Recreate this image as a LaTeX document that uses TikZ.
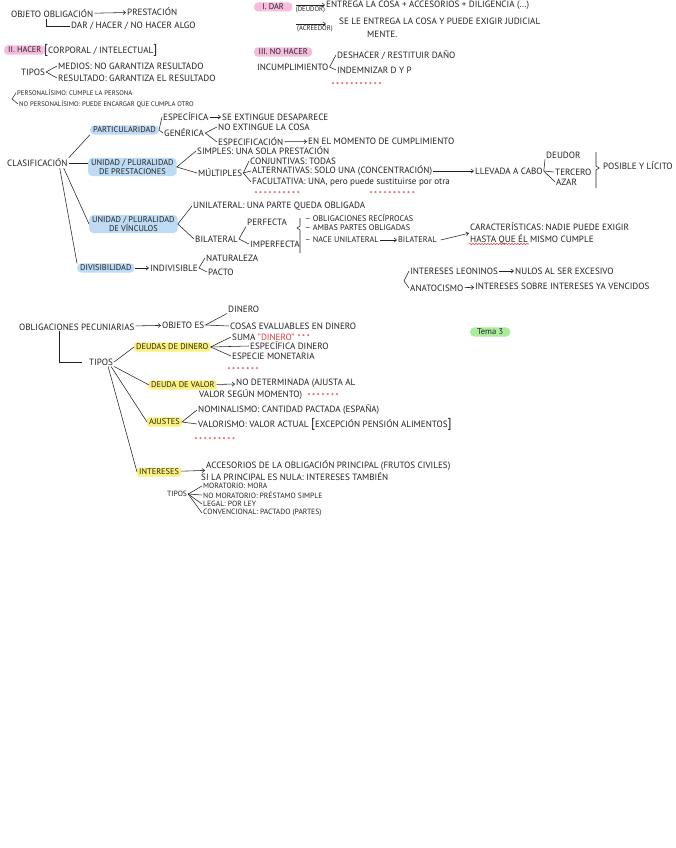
\documentclass[tikz,border=0pt]{standalone}
\usepackage{fontspec}
\setmainfont{PT Sans}
\usetikzlibrary{arrows.meta,decorations.pathmorphing}

\definecolor{ink}{HTML}{222222}
\definecolor{hlpink}{HTML}{F6BCDD}
\definecolor{hlblue}{HTML}{BFDBF4}
\definecolor{hlyellow}{HTML}{FAF07C}
\definecolor{hlgreen}{HTML}{ABEC9C}
\definecolor{starred}{HTML}{E03A3A}

% row of red stars: x, y, count
\newcommand{\redstars}[3]{%
  \foreach \s in {1,...,#3} {
    \node[text=starred, inner sep=0pt, font=\fontsize{8.5}{8}\selectfont] at (#1+\s*4.7-4.7, #2+1.5) {*};
  }%
}
\newcommand{\bigbr}[1]{{\fontsize{13}{13}\selectfont #1}}

\begin{document}
\begin{tikzpicture}[x=1pt, y=-1pt,
  txt/.style={anchor=west, inner sep=1pt, text=ink, font=\fontsize{9.1}{10}\selectfont},
  small/.style={txt, font=\fontsize{8.2}{9}\selectfont},
  mini/.style={txt, font=\fontsize{7.6}{8}\selectfont},
  tiny/.style={txt, font=\fontsize{6.7}{7}\selectfont},
  pinkbox/.style={txt, font=\fontsize{8.3}{9}\selectfont, fill=hlpink, rounded corners=3.5pt, inner xsep=4pt, inner ysep=1.5pt},
  bluebox/.style={txt, font=\fontsize{8.3}{9}\selectfont, fill=hlblue, rounded corners=4pt, inner xsep=3pt, inner ysep=1.5pt},
  yellowbox/.style={txt, font=\fontsize{8.3}{9}\selectfont, fill=hlyellow, rounded corners=2pt, inner xsep=2pt, inner ysep=1.5pt},
  greenbox/.style={txt, font=\fontsize{8.5}{9}\selectfont, fill=hlgreen, rounded corners=4pt, inner xsep=7pt, inner ysep=1.5pt},
  link/.style={draw=ink, line width=0.55pt},
  arr/.style={link, -{Straight Barb[length=2.5pt, width=4pt]}},
]

  % --- Page ---
  \useasboundingbox (0,0) rectangle (676,848);
  \fill[white] (0,0) rectangle (676,848);

  % --- Objeto ---
  \node[txt] (objeto) at (10,14) {OBJETO OBLIGACIÓN};
  \node[txt] (prest) at (126,12) {PRESTACIÓN};
  \draw[arr] (objeto) -- (prest);
  \node[txt] (dhn) at (70,26) {DAR / HACER / NO HACER ALGO};
  \draw[link] ([xshift=-6pt]objeto.south) |- (dhn.west);

  % --- II. Hacer ---
  \node[pinkbox] (hacer) at (4,50) {II. HACER};
  \node[txt] (corp) at (43,50) {\bigbr{[}CORPORAL / INTELECTUAL\bigbr{]}};
  \node[txt] (tipos1) at (20,72) {TIPOS};
  \node[txt] (medios) at (57,66) {MEDIOS: NO GARANTIZA RESULTADO};
  \node[txt] (result) at (57,78) {RESULTADO: GARANTIZA EL RESULTADO};
  \draw[link] (medios.west) -- (tipos1.east) -- (result.west);

  \coordinate (pbr) at (12,99);
  \node[tiny] (perso) at (16,93) {PERSONALÍSIMO: CUMPLE LA PERSONA};
  \node[tiny] (noperso) at (18,104) {NO PERSONALÍSIMO: PUEDE ENCARGAR QUE CUMPLA OTRO};
  \draw[link] (perso.west) -- (pbr) -- (noperso.west);

  % --- I. Dar ---
  \node[pinkbox, minimum width=38pt] (dar) at (254,7) {I. DAR};
  \node[txt] (entrega) at (325,5) {ENTREGA LA COSA + ACCESORIOS + DILIGENCIA (...)};
  \coordinate (d1) at (296,5);
  \draw[arr] (d1) -- (entrega.west) node[tiny, midway, anchor=north, inner sep=0pt, yshift=-1pt] {(DEUDOR)};
  \node[txt] (seleent) at (338,21) {SE LE ENTREGA LA COSA Y PUEDE EXIGIR JUDICIAL};
  \node[txt] (mente) at (366,34) {MENTE.};
  \coordinate (d2) at (296,24);
  \draw[arr, shorten >=12pt] (d2) -- (d2 -| seleent.west) node[tiny, pos=0.45, anchor=north, inner sep=0pt, yshift=-1pt] {(ACREEDOR)};

  % --- III. No hacer ---
  \node[pinkbox, minimum width=58pt] (nohacer) at (254,52) {III. NO HACER};
  \node[txt] (incump) at (256,67) {INCUMPLIMIENTO};
  \node[txt] (deshacer) at (336,55) {DESHACER / RESTITUIR DAÑO};
  \node[txt] (indem) at (336,70) {INDEMNIZAR D Y P};
  \draw[link] (deshacer.west) -- (incump.east) -- (indem.west);
  \redstars{333}{84}{11}

  % --- Clasificacion ---
  \node[txt] (clasif) at (6,163) {CLASIFICACIÓN};
  \node[bluebox] (partic) at (90,130) {PARTICULARIDAD};
  \node[bluebox, align=center] (uniprest) at (88,167) {UNIDAD / PLURALIDAD\\DE PRESTACIONES};
  \node[bluebox, align=center] (univinc) at (89,224) {UNIDAD / PLURALIDAD\\DE VÍNCULOS};
  \node[bluebox] (divis) at (77,268) {DIVISIBILIDAD};
  \draw[link] (clasif.north east) -- (partic.south west);
  \draw[link] (clasif.east) -- (clasif.east -| uniprest.west);
  \draw[link] ([xshift=-5pt]clasif.south east) -- (univinc.west);
  \draw[link] ([xshift=-9pt]clasif.south east) -- (divis.north west);

  % particularidad
  \node[txt] (especif) at (162,117) {ESPECÍFICA};
  \node[txt] (extingue) at (221,117) {SE EXTINGUE DESAPARECE};
  \node[txt] (generica) at (163,133) {GENÉRICA};
  \draw[link] (especif.west) -- (partic.east) -- (generica.west);
  \draw[arr] (especif) -- (extingue);
  \node[txt] (noext) at (217,127) {NO EXTINGUE LA COSA};
  \node[txt] (especifc) at (217,142) {ESPECIFICACIÓN};
  \node[txt] (momento) at (307,141) {EN EL MOMENTO DE CUMPLIMIENTO};
  \draw[link] (noext.west) -- (generica.east) -- (especifc.west);
  \draw[arr] (especifc) -- (momento);

  % prestaciones
  \node[txt] (simples) at (196,151) {SIMPLES: UNA SOLA PRESTACIÓN};
  \node[txt] (multiples) at (197,173) {MÚLTIPLES};
  \draw[link] (simples.west) -- (uniprest.east) -- (multiples.west);
  \node[txt] (conj) at (249,161) {CONJUNTIVAS: TODAS};
  \node[txt] (altern) at (251,171) {ALTERNATIVAS: SOLO UNA (CONCENTRACIÓN)};
  \node[txt] (facul) at (251,182) {FACULTATIVA: UNA, pero puede sustituirse por otra};
  \foreach \n in {conj, altern, facul} {
    \draw[link] (multiples.east) -- (\n.west);
  }
  \redstars{256}{193}{10}
  \redstars{371}{193}{10}
  \node[txt] (llevada) at (474,171) {LLEVADA A CABO};
  \draw[arr] (altern) -- (llevada);
  \node[txt] (deudor) at (545,155) {DEUDOR};
  \node[txt] (tercero) at (554,172) {TERCERO};
  \node[txt] (azar) at (555,182) {AZAR};
  \draw[link] (llevada.east) -- (deudor.south west);
  \draw[link] (llevada.east) -- (tercero.west);
  \draw[link] (llevada.east) -- (azar.west);
  \draw[link] (596,152) -- (596,166) -- (599,168) -- (596,170) -- (596,188);
  \node[txt] (posible) at (602,166) {POSIBLE Y LÍCITO};

  % vinculos
  \node[txt] (unilat) at (192,206) {UNILATERAL: UNA PARTE QUEDA OBLIGADA};
  \node[txt] (bilat) at (194,239) {BILATERAL};
  \draw[link] (unilat.west) -- (univinc.east) -- (bilat.west);
  \node[txt] (perfecta) at (246,222) {PERFECTA};
  \node[txt] (imperf) at (249,244) {IMPERFECTA};
  \draw[link] (perfecta.south west) -- (bilat.east) -- (imperf.west);
  \draw[link] (300,218) -- (300,226) -- (297,228) -- (300,230) -- (300,253);
  \node[small] (recip) at (304,218) {– OBLIGACIONES RECÍPROCAS};
  \node[small] (ambas) at (304,228) {– AMBAS PARTES OBLIGADAS};
  \node[small] (nace) at (304,240) {– NACE UNILATERAL};
  \node[small] (bilat2) at (397,240) {BILATERAL};
  \draw[arr] (nace) -- (bilat2);
  \node[txt] (caract) at (469,227) {CARACTERÍSTICAS: NADIE PUEDE EXIGIR};
  \node[txt] (hastaa) at (469,239) {HASTA QUE ÉL};
  \node[txt] (hastab) at (hastaa.east) {MISMO CUMPLE};
  \draw[starred, line width=0.6pt, decorate, decoration={snake, amplitude=0.6pt, segment length=3pt}]
    ([yshift=1pt]hastaa.south west) -- ([yshift=1pt]hastaa.south east);
  \draw[arr] ([xshift=3pt]bilat2.east) -- ([yshift=-1pt]caract.south west);

  % divisibilidad
  \node[txt] (indiv) at (149,268) {INDIVISIBLE};
  \draw[arr] (divis) -- (indiv);
  \node[txt] (natur) at (205,258) {NATURALEZA};
  \node[txt] (pacto) at (207,272) {PACTO};
  \draw[link] (natur.west) -- (indiv.east) -- (pacto.west);

  % --- Intereses leoninos / anatocismo ---
  \coordinate (ibr) at (404,281);
  \node[txt] (leon) at (409,271) {INTERESES LEONINOS};
  \node[txt] (nulos) at (514,271) {NULOS AL SER EXCESIVO};
  \node[txt] (anat) at (409,288) {ANATOCISMO};
  \node[txt] (sobre) at (474,286) {INTERESES SOBRE INTERESES YA VENCIDOS};
  \draw[link] (leon.west) -- (ibr) -- (anat.west);
  \draw[arr] (leon) -- (nulos);
  \draw[arr] (anat) -- (sobre);

  % --- Obligaciones pecuniarias ---
  \node[txt] (pecun) at (18,327) {OBLIGACIONES PECUNIARIAS};
  \node[txt] (objes) at (161,325) {OBJETO ES};
  \draw[arr] (pecun) -- (objes);
  \node[txt] (dinero) at (227,309) {DINERO};
  \node[txt] (cosas) at (229,326) {COSAS EVALUABLES EN DINERO};
  \draw[link] (dinero.south west) -- (objes.east) -- (cosas.west);
  \node[txt] (tipos2) at (88,362) {TIPOS};
  \draw[link] ([xshift=-18pt]pecun.south) |- ([xshift=-6pt]tipos2.west);

  \node[greenbox] (tema) at (470,332) {Tema 3};

  \node[yellowbox] (deudas) at (134,347) {DEUDAS DE DINERO};
  \node[yellowbox] (dvalor) at (149,385) {DEUDA DE VALOR};
  \node[yellowbox] (ajustes) at (147,422) {AJUSTES};
  \node[yellowbox] (interes) at (137,472) {INTERESES};
  \draw[link] (tipos2.east) -- (deudas.west);
  \foreach \n/\s in {dvalor/0, ajustes/3, interes/6} {
    \draw[link] ([xshift=-\s pt]tipos2.south east) -- (\n.west);
  }

  % deudas de dinero
  \node[txt] (suma) at (231,337) {SUMA \textcolor{starred}{"DINERO"}};
  \redstars{299}{336}{3}
  \node[txt] (espdin) at (249,346) {ESPECÍFICA DINERO};
  \node[txt] (espmon) at (231,356) {ESPECIE MONETARIA};
  \foreach \n in {suma, espdin, espmon} {
    \draw[link] (deudas.east) -- (\n.west);
  }
  \redstars{229}{369}{7}

  % deuda de valor
  \node[txt] (nodet) at (235,383) {NO DETERMINADA (AJUSTA AL};
  \node[txt] (valseg) at (198,395) {VALOR SEGÚN MOMENTO)};
  \draw[arr] (dvalor) -- (nodet);
  \redstars{309}{395}{7}

  % ajustes
  \node[txt] (nomin) at (197,410) {NOMINALISMO: CANTIDAD PACTADA (ESPAÑA)};
  \node[txt] (valor) at (197,424) {VALORISMO: VALOR ACTUAL \bigbr{[}EXCEPCIÓN PENSIÓN ALIMENTOS\bigbr{]}};
  \draw[link] (nomin.west) -- (ajustes.east) -- (valor.west);
  \redstars{196}{439}{9}

  % intereses
  \node[txt] (acces) at (205,466) {ACCESORIOS DE LA OBLIGACIÓN PRINCIPAL (FRUTOS CIVILES)};
  \node[txt] (sinula) at (200,477) {SI LA PRINCIPAL ES NULA: INTERESES TAMBIÉN};
  \draw[arr] (interes) -- (acces);
  \node[mini] (tipos3) at (166,494) {TIPOS};
  \node[mini] (morat) at (202,486) {MORATORIO: MORA};
  \node[mini] (nomorat) at (202,495) {NO MORATORIO: PRÉSTAMO SIMPLE};
  \node[mini] (legal) at (202,504) {LEGAL: POR LEY};
  \node[mini] (conv) at (202,513) {CONVENCIONAL: PACTADO (PARTES)};
  \foreach \n in {morat, nomorat, legal, conv} {
    \draw[link] (tipos3.east) -- (\n.west);
  }

\end{tikzpicture}
\end{document}
